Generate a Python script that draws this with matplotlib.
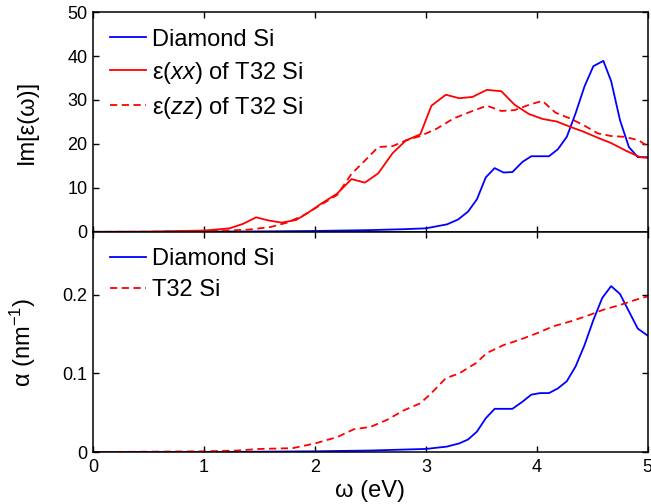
import matplotlib.pyplot as plt

plt.rcParams["font.family"] = ["Liberation Sans", "DejaVu Sans"]
plt.rcParams["mathtext.fontset"] = "custom"
plt.rcParams["mathtext.rm"] = "Liberation Sans"
plt.rcParams["mathtext.it"] = "Liberation Sans:italic"

# top panel: Im[eps(w)]
dia_e = [0.0, 0.5, 1.0, 1.5, 2.0, 2.5, 2.8, 3.0, 3.19, 3.29, 3.38, 3.46, 3.54, 3.62, 3.70,
         3.78, 3.87, 3.95, 4.03, 4.11, 4.19, 4.27, 4.35, 4.43, 4.51, 4.60, 4.67, 4.75,
         4.83, 4.91, 5.0]
dia_im = [0.0, 0.0, 0.05, 0.1, 0.2, 0.4, 0.6, 0.8, 1.7, 2.8, 4.6, 7.4, 12.4, 14.5, 13.5,
          13.6, 15.9, 17.2, 17.2, 17.2, 18.8, 21.6, 27.0, 33.1, 37.7, 38.9, 34.3, 25.4,
          19.3, 17.0, 17.0]

xx_e = [0.0, 0.5, 1.0, 1.1, 1.23, 1.35, 1.47, 1.58, 1.7, 1.83, 1.93, 2.05, 2.2, 2.33,
        2.45, 2.57, 2.7, 2.82, 2.95, 3.05, 3.18, 3.3, 3.42, 3.55, 3.68, 3.8, 3.93, 4.05,
        4.18, 4.3, 4.42, 4.55, 4.67, 4.8, 4.93, 5.0]
xx_im = [0.0, 0.05, 0.3, 0.5, 0.8, 1.8, 3.3, 2.6, 2.1, 2.7, 4.2, 6.3, 8.7, 12.0, 11.2,
         13.3, 17.9, 20.8, 22.2, 28.7, 31.2, 30.4, 30.7, 32.3, 32.0, 28.9, 26.8, 25.7,
         25.1, 23.9, 22.8, 21.4, 20.2, 18.5, 17.0, 16.8]

zz_e = [0.0, 0.5, 1.0, 1.2, 1.4, 1.6, 1.75, 1.9, 2.05, 2.2, 2.33, 2.45, 2.57, 2.7, 2.82,
        2.95, 3.1, 3.25, 3.4, 3.55, 3.68, 3.8, 3.93, 4.05, 4.17, 4.3, 4.42, 4.55, 4.67,
        4.8, 4.92, 5.0]
zz_im = [0.0, 0.02, 0.15, 0.3, 0.5, 1.1, 2.1, 3.8, 6.1, 8.4, 13.2, 16.2, 19.3, 19.5, 20.8,
         21.8, 23.5, 25.8, 27.3, 28.7, 27.5, 27.7, 28.9, 29.8, 27.1, 25.8, 24.3, 22.4, 21.8,
         21.6, 20.8, 19.5]

# bottom panel: absorption coefficient
dia_a_e = [0.0, 1.0, 2.0, 2.5, 3.0, 3.19, 3.3, 3.38, 3.46, 3.54, 3.62, 3.78, 3.87, 3.95,
           4.03, 4.11, 4.19, 4.27, 4.35, 4.43, 4.51, 4.59, 4.67, 4.75, 4.83, 4.91, 5.0]
dia_alpha = [0.0, 0.0, 0.001, 0.002, 0.004, 0.007, 0.011, 0.016, 0.026, 0.043, 0.055, 0.055,
             0.064, 0.073, 0.075, 0.075, 0.081, 0.090, 0.109, 0.136, 0.168, 0.196, 0.211,
             0.201, 0.179, 0.157, 0.148]

t32_e = [0.0, 1.0, 1.3, 1.5, 1.8, 2.0, 2.2, 2.35, 2.5, 2.65, 2.8, 2.95, 3.05, 3.18, 3.3,
         3.45, 3.55, 3.7, 3.85, 4.0, 4.15, 4.3, 4.45, 4.6, 4.75, 4.9, 5.0]
t32_alpha = [0.0, 0.001, 0.002, 0.004, 0.005, 0.011, 0.019, 0.029, 0.032, 0.041, 0.053,
             0.062, 0.075, 0.094, 0.100, 0.113, 0.126, 0.136, 0.143, 0.151, 0.160, 0.166,
             0.173, 0.181, 0.187, 0.194, 0.198]

fig = plt.figure(figsize=(6.51, 5.04), dpi=100)
ax1 = fig.add_axes([0.143, 0.540, 0.852, 0.436])
ax2 = fig.add_axes([0.143, 0.103, 0.852, 0.437])

lw = 1.3
dash = (4, 2.5)

ax1.plot(dia_e, dia_im, color="blue", lw=lw, label="Diamond Si")
ax1.plot(xx_e, xx_im, color="red", lw=lw, label="ε($\\mathit{xx}$) of T32 Si")
ax1.plot(zz_e, zz_im, color="red", lw=lw, dashes=dash, label="ε($\\mathit{zz}$) of T32 Si")
ax1.set_xlim(0, 5)
ax1.set_ylim(0, 50)
ax1.set_yticks([0, 10, 20, 30, 40, 50])
ax1.set_xticks([0, 1, 2, 3, 4, 5])
ax1.tick_params(labelbottom=False)
ax1.set_ylabel("Im[ε(ω)]", fontsize=17)
ax1.yaxis.set_label_coords(-0.1, 0.5)

ax2.plot(dia_a_e, dia_alpha, color="blue", lw=lw, label="Diamond Si")
ax2.plot(t32_e, t32_alpha, color="red", lw=lw, dashes=dash, label="T32 Si")
ax2.set_xlim(0, 5)
ax2.set_ylim(0, 0.28)
ax2.set_yticks([0, 0.1, 0.2])
ax2.set_yticklabels(["0", "0.1", "0.2"])
ax2.set_xticks([0, 1, 2, 3, 4, 5])
ax2.set_xlabel("ω (eV)", fontsize=17)
ax2.xaxis.set_label_coords(0.5, -0.125)
ax2.set_ylabel("α (nm$^{-1}$)", fontsize=17)
ax2.yaxis.set_label_coords(-0.1, 0.5)

for ax in (ax1, ax2):
    ax.tick_params(direction="in", top=True, right=True, length=4.5, width=1,
                   labelsize=13)
    ax.tick_params(axis="x", pad=5)
    ax.tick_params(axis="y", pad=4)
    for s in ax.spines.values():
        s.set_linewidth(1.1)
    ax.legend(loc="upper left", frameon=False, fontsize=17, handlelength=1.55,
              handletextpad=0.25, labelspacing=0.38, borderaxespad=0.4,
              borderpad=0.3)

fig.savefig("out.png", dpi=100)
